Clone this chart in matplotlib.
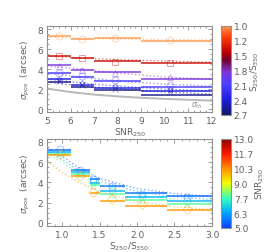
import numpy as np
import matplotlib
matplotlib.use("Agg")
import matplotlib.pyplot as plt
from matplotlib.colors import LinearSegmentedColormap, Normalize
from matplotlib.cm import ScalarMappable
from matplotlib.ticker import AutoMinorLocator

# ---- top panel: sigma_pos vs SNR250, one series per S250/S350 colour ----
snr_edges = [5, 6, 7, 9, 12]
snr_mid = [5.5, 6.5, 7.9, 10.2]
ratio_series = [1.0, 1.45, 1.9, 2.15, 2.4, 2.62]
top_steps = [
    [7.3, 6.98, 7.15, 6.85],
    [5.3, 5.1, 4.8, 4.6],
    [4.45, 3.9, 3.7, 3.05],
    [3.65, 3.25, 2.85, 2.2],
    [3.0, 2.4, 2.15, 1.8],
    [2.75, 2.25, 1.95, 1.45],
]
top_marks = [
    [7.3, 7.0, 7.15, 6.9],
    [5.35, 5.15, 4.75, 4.65],
    [4.3, 3.9, 3.6, 3.2],
    [3.6, 3.3, 2.9, 2.45],
    [3.0, 2.6, 2.3, 2.0],
    [2.8, 2.4, 2.05, 1.75],
]
top_markers = ["o", "s", "^", "o", "*", "x"]
top_fit_x = [5, 6.5, 8, 10, 12]
top_fits = [
    [7.2, 7.05, 7.0, 6.95, 6.9],
    [5.3, 5.1, 4.95, 4.8, 4.7],
    [4.3, 4.0, 3.6, 3.2, 3.0],
    [3.6, 3.2, 2.8, 2.5, 2.3],
    [3.0, 2.6, 2.3, 2.0, 1.8],
    [2.7, 2.3, 2.0, 1.7, 1.5],
]
sig_th_x = [5, 6, 7, 8, 9, 10, 11, 12]
sig_th_y = [2.05, 1.7, 1.45, 1.27, 1.13, 1.02, 0.93, 0.85]
ratio_ticks = ["1.0", "1.2", "1.5", "1.8", "2.1", "2.4", "2.7"]

# ---- bottom panel: sigma_pos vs S250/S350, one series per SNR bin ----
col_edges = [0.8, 1.12, 1.37, 1.5, 1.84, 2.4, 3.0]
col_mid = [0.97, 1.24, 1.41, 1.66, 2.06, 2.67]
snr_series = [5.5, 6.5, 7.9, 10.2]
bot_steps = [
    [7.2, 5.25, 4.35, 3.6, 2.95, 2.65],
    [7.0, 5.0, 3.95, 3.2, 2.6, 2.2],
    [6.85, 4.8, 3.7, 2.85, 2.3, 1.85],
    [6.7, 4.6, 2.95, 2.2, 1.7, 1.3],
]
bot_marks = [
    [7.3, 5.2, 4.3, 3.6, 2.9, 2.6],
    [7.0, 5.0, 4.0, 3.3, 2.6, 2.2],
    [6.9, 4.8, 3.7, 2.9, 2.3, 1.9],
    [6.8, 4.6, 3.1, 2.4, 1.9, 1.4],
]
bot_markers = ["o", "o", "^", "D"]
bot_fit_x = [0.8, 1.0, 1.25, 1.5, 2.0, 2.5, 3.0]
bot_fits = [
    [7.4, 6.6, 5.3, 4.4, 3.4, 2.9, 2.6],
    [7.1, 6.3, 5.0, 4.1, 3.1, 2.6, 2.3],
    [6.8, 6.0, 4.7, 3.8, 2.8, 2.3, 2.0],
    [6.1, 5.0, 3.9, 3.1, 2.1, 1.6, 1.3],
]
snr_ticks = ["5.0", "6.3", "7.7", "9.0", "10.3", "11.7", "13.0"]

cmap_ratio = LinearSegmentedColormap.from_list("ratio", [
    (0.0, (1.0, 0.6, 0.3)),
    (0.12, (1.0, 0.25, 0.05)),
    (0.29, (0.75, 0.0, 0.0)),
    (0.38, (0.45, 0.0, 0.15)),
    (0.52, (0.5, 0.2, 0.85)),
    (0.65, (0.3, 0.25, 1.0)),
    (0.82, (0.12, 0.12, 0.9)),
    (1.0, (0.08, 0.08, 0.4)),
])
cmap_snr = LinearSegmentedColormap.from_list("snr", [
    (0.0, (0.05, 0.25, 1.0)),
    (0.17, (0.0, 0.65, 1.0)),
    (0.33, (0.2, 1.0, 0.75)),
    (0.5, (0.95, 1.0, 0.0)),
    (0.67, (1.0, 0.55, 0.0)),
    (0.83, (1.0, 0.1, 0.0)),
    (1.0, (0.55, 0.0, 0.0)),
])
norm_ratio = Normalize(1.0, 2.7)
norm_snr = Normalize(5.0, 13.0)

fs = 6.5
tc = "#606060"
plt.rcParams["font.family"] = "DejaVu Sans"

fig = plt.figure(figsize=(2.69, 2.53), dpi=100)
ax1 = fig.add_axes([0.175, 0.553, 0.613, 0.34])
ax2 = fig.add_axes([0.175, 0.103, 0.613, 0.344])
cax1 = fig.add_axes([0.822, 0.542, 0.037, 0.352])
cax2 = fig.add_axes([0.822, 0.095, 0.037, 0.352])


def style(ax):
    for s in ax.spines.values():
        s.set_color("#909090")
        s.set_linewidth(0.8)
    ax.tick_params(which="both", direction="in", top=True, right=True,
                   colors="#909090", labelcolor=tc, labelsize=fs, width=0.6)
    ax.tick_params(which="major", length=3, pad=3)
    ax.tick_params(which="minor", length=1.5)
    ax.yaxis.set_minor_locator(AutoMinorLocator(4))


# top
for i, r in enumerate(ratio_series):
    c = cmap_ratio(norm_ratio(r))
    ax1.plot(top_fit_x, top_fits[i], ls=":", color=c, lw=1.0, alpha=0.55)
    ax1.hlines(top_steps[i], snr_edges[:-1], snr_edges[1:], color=c, lw=1.3, alpha=0.8)
    ax1.plot(snr_mid, top_marks[i], ls="none", marker=top_markers[i], ms=5,
             mfc="none", mec=c, mew=0.6, alpha=0.45)
ax1.plot(sig_th_x, sig_th_y, color="#b8b8b8", lw=1.4)
ax1.text(11.1, 0.3, r"$\sigma_{th}$", fontsize=5.5, color="#909090")
ax1.set_xlim(5, 12)
ax1.set_ylim(-0.3, 8.3)
ax1.set_xticks(range(5, 13))
ax1.set_yticks([0, 2, 4, 6, 8])
ax1.xaxis.set_minor_locator(AutoMinorLocator(4))
ax1.set_xlabel(r"SNR$_{250}$", fontsize=fs, color=tc, labelpad=0)
ax1.set_ylabel(r"$\sigma_{pos}$  (arcsec)", fontsize=fs, color=tc, labelpad=4)
style(ax1)

# bottom
for i, s in enumerate(snr_series):
    c = cmap_snr(norm_snr(s))
    ax2.plot(bot_fit_x, bot_fits[i], ls=":", color=c, lw=1.0, alpha=0.55)
    ax2.hlines(bot_steps[i], col_edges[:-1], col_edges[1:], color=c, lw=1.3, alpha=0.8)
    ax2.plot(col_mid, bot_marks[i], ls="none", marker=bot_markers[i], ms=5,
             mfc="none", mec=c, mew=0.6, alpha=0.45)
ax2.set_xlim(0.8, 3.0)
ax2.set_ylim(-0.3, 8.3)
ax2.set_xticks([1.0, 1.5, 2.0, 2.5, 3.0])
ax2.set_yticks([0, 2, 4, 6, 8])
ax2.xaxis.set_minor_locator(AutoMinorLocator(5))
ax2.set_xlabel(r"S$_{250}$/S$_{350}$", fontsize=fs, color=tc, labelpad=0)
ax2.set_ylabel(r"$\sigma_{pos}$  (arcsec)", fontsize=fs, color=tc, labelpad=4)
style(ax2)

# colour bars
cb1 = fig.colorbar(ScalarMappable(norm=norm_ratio, cmap=cmap_ratio), cax=cax1)
cb1.set_ticks(np.linspace(1.0, 2.7, len(ratio_ticks)))
cb1.set_ticklabels(ratio_ticks)
cax1.invert_yaxis()
cb1.set_label(r"S$_{250}$/S$_{350}$", fontsize=fs, color=tc, labelpad=0)

cb2 = fig.colorbar(ScalarMappable(norm=norm_snr, cmap=cmap_snr), cax=cax2)
cb2.set_ticks(np.linspace(5.0, 13.0, len(snr_ticks)))
cb2.set_ticklabels(snr_ticks)
cb2.set_label(r"SNR$_{250}$", fontsize=fs, color=tc, labelpad=0)

for cb in (cb1, cb2):
    cb.outline.set_edgecolor("#909090")
    cb.outline.set_linewidth(0.8)
    cb.ax.tick_params(length=0, labelsize=fs, labelcolor=tc, pad=2)
    cb.ax.minorticks_off()

fig.savefig("out.png", dpi=100)
